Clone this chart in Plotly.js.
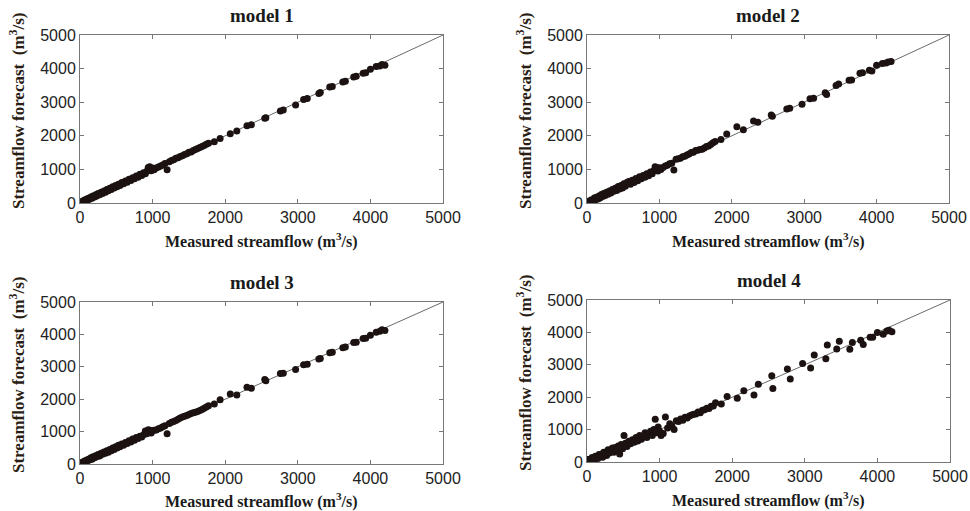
<!DOCTYPE html>
<html>
<head>
<meta charset="utf-8">
<script src="https://cdn.plot.ly/plotly-3.0.1.min.js"></script>
<style>html,body{margin:0;padding:0;background:#fff;}#chart{width:970px;height:511px;}</style>
</head>
<body>
<div id="chart"></div>
<script>
// Measured streamflow (m3/s), shared by all four models
const measured = [
  20,40,55,70,85,100,115,130,150,165,180,200,215,230,250,270,290,310,330,350,
  370,390,410,430,450,470,490,510,530,550,575,600,625,650,675,700,725,750,775,800,
  825,850,875,900,920,940,960,980,1000,1020,
  1050,1080,1110,1140,1170,1200,1230,1260,1290,1320,1350,1380,1410,1440,1470,1500,1530,1560,1590,1620,
  1650,1680,1710,1740,1770,
  1850,1930,2070,2160,2300,2360,2545,2560,2760,2800,2970,3080,3130,3290,3310,3440,3475,3620,3655,3770,
  3805,3900,3935,4000,4080,4130,4160,4200
];

// Forecast streamflow (m3/s) for each model
const model1 = [
  40,15,80,50,110,80,140,110,180,140,210,175,245,205,280,245,320,285,360,320,
  400,365,440,400,485,445,520,480,560,520,610,570,655,620,705,670,755,720,805,770,
  855,820,900,870,945,1060,1080,960,1040,990,
  1040,1075,1100,1130,1175,990,1230,1265,1290,1330,1345,1385,1405,1445,1465,1510,1520,1565,1590,1625,
  1655,1680,1710,1745,1780,
  1820,1920,2060,2140,2300,2330,2520,2540,2740,2770,2920,3080,3110,3260,3290,3450,3470,3600,3620,3750,
  3770,3860,3880,3980,4060,4080,4120,4100
];
const model2 = [
  50,10,90,60,40,150,90,170,120,210,150,250,190,280,220,320,260,360,300,400,
  350,440,370,490,420,520,450,570,500,610,640,560,680,610,730,660,780,720,820,770,
  870,810,920,870,960,1080,1060,950,1050,1000,
  1060,1100,1120,1170,1180,980,1300,1320,1330,1380,1390,1430,1460,1500,1510,1560,1570,1590,1600,1640,
  1680,1700,1740,1790,1830,
  1890,2050,2270,2180,2440,2400,2620,2580,2800,2820,2940,3100,3120,3280,3230,3500,3540,3650,3660,3860,
  3880,3950,3930,4100,4150,4170,4200,4210
];
const model3 = [
  45,20,85,60,115,90,150,120,190,150,220,190,255,220,290,250,330,300,370,335,
  410,365,450,410,495,450,530,490,575,530,620,580,665,630,715,680,770,730,815,790,
  860,830,905,1020,935,1060,1040,960,1030,1040,
  1050,1090,1110,1150,1180,930,1250,1290,1310,1340,1380,1420,1450,1470,1500,1530,1560,1580,1600,1620,
  1650,1680,1720,1760,1800,
  1850,1980,2160,2130,2370,2340,2610,2570,2790,2800,2920,3060,3080,3240,3260,3430,3450,3590,3610,3750,
  3760,3870,3880,3970,4070,4100,4140,4120
];
const model4 = [
  80,60,20,140,90,60,180,130,110,230,170,240,150,300,260,200,380,280,330,430,
  300,450,380,490,250,540,410,820,580,480,640,560,690,610,760,650,820,700,780,900,
  760,880,950,820,1000,1320,900,1080,950,820,
  880,1390,1050,1180,1100,1000,1270,1250,1330,1290,1380,1360,1420,1450,1470,1480,1540,1520,1600,1610,
  1660,1650,1720,1730,1830,
  1790,2020,1970,2200,2070,2400,2660,2270,2870,2560,3040,2900,3300,3190,3610,3490,3730,3480,3690,3760,
  3630,3850,3850,4000,3940,4040,4070,4020
];

const titles = ["model 1", "model 2", "model 3", "model 4"];
const tickVals = [0, 1000, 2000, 3000, 4000, 5000];
const axisRange = [0, 5000];
const lineEnds = [0, 5000];

const forecasts = [model1, model2, model3, model4];
const xDomains = [[80/970, 443/970], [587/970, 949/970], [80/970, 443/970], [587/970, 950/970]];
const yDomains = [[1-203/511, 1-35/511], [1-203/511, 1-35/511], [1-464/511, 1-302/511], [1-462/511, 1-300/511]];

const traces = [];
const layout = {
  width: 970, height: 511,
  margin: {l: 0, r: 0, t: 0, b: 0},
  paper_bgcolor: '#fff', plot_bgcolor: '#fff',
  showlegend: false,
  annotations: []
};
const serif = 'Liberation Serif, Times New Roman, serif';
const sans = 'Liberation Sans, Arial, sans-serif';

forecasts.forEach((f, i) => {
  const sx = i === 0 ? '' : String(i + 1);
  traces.push({
    type: 'scatter', mode: 'lines', x: lineEnds, y: lineEnds,
    xaxis: 'x' + sx, yaxis: 'y' + sx,
    line: {color: '#6a6a6a', width: 1}, hoverinfo: 'skip'
  });
  traces.push({
    type: 'scatter', mode: 'markers', x: measured, y: f,
    xaxis: 'x' + sx, yaxis: 'y' + sx,
    marker: {color: '#1c1212', size: 7}
  });
  const ax = {
    domain: xDomains[i], range: axisRange, tickvals: tickVals,
    showline: true, mirror: 'ticks', linecolor: '#777', linewidth: 1,
    ticks: 'inside', ticklen: 4, tickcolor: '#777',
    showgrid: false, zeroline: false,
    tickfont: {family: sans, size: 16, color: '#222'},
    anchor: 'y' + sx, fixedrange: true
  };
  const ay = {
    domain: yDomains[i], range: axisRange, tickvals: tickVals,
    showline: true, mirror: 'ticks', linecolor: '#777', linewidth: 1,
    ticks: 'inside', ticklen: 4, tickcolor: '#777',
    showgrid: false, zeroline: false,
    tickfont: {family: sans, size: 16, color: '#222'},
    anchor: 'x' + sx, fixedrange: true
  };
  layout['xaxis' + sx] = ax;
  layout['yaxis' + sx] = ay;

  const cx = (xDomains[i][0] + xDomains[i][1]) / 2;
  const top = yDomains[i][1];
  const bot = yDomains[i][0];
  layout.annotations.push({
    text: '<b>' + titles[i] + '</b>', xref: 'paper', yref: 'paper',
    x: cx, y: top + 20/511, xanchor: 'center', yanchor: 'middle', showarrow: false,
    font: {family: serif, size: 19, color: '#1a1a1a'}
  });
  layout.annotations.push({
    text: '<b>Measured streamflow (m<sup>3</sup>/s)</b>', xref: 'paper', yref: 'paper',
    x: cx, y: bot - 37/511, xanchor: 'center', yanchor: 'middle', showarrow: false,
    font: {family: serif, size: 16, color: '#1a1a1a'}
  });
  layout.annotations.push({
    text: '<b>Streamflow forecast  (m<sup>3</sup>/s)</b>', xref: 'paper', yref: 'paper',
    x: xDomains[i][0] - 63/970, y: (top + bot) / 2 + 8/511, xanchor: 'center', yanchor: 'middle',
    textangle: -90, showarrow: false,
    font: {family: serif, size: 17, color: '#2a1d14'}
  });
});

Plotly.newPlot('chart', traces, layout, {displayModeBar: false, staticPlot: true});
</script>
</body>
</html>
